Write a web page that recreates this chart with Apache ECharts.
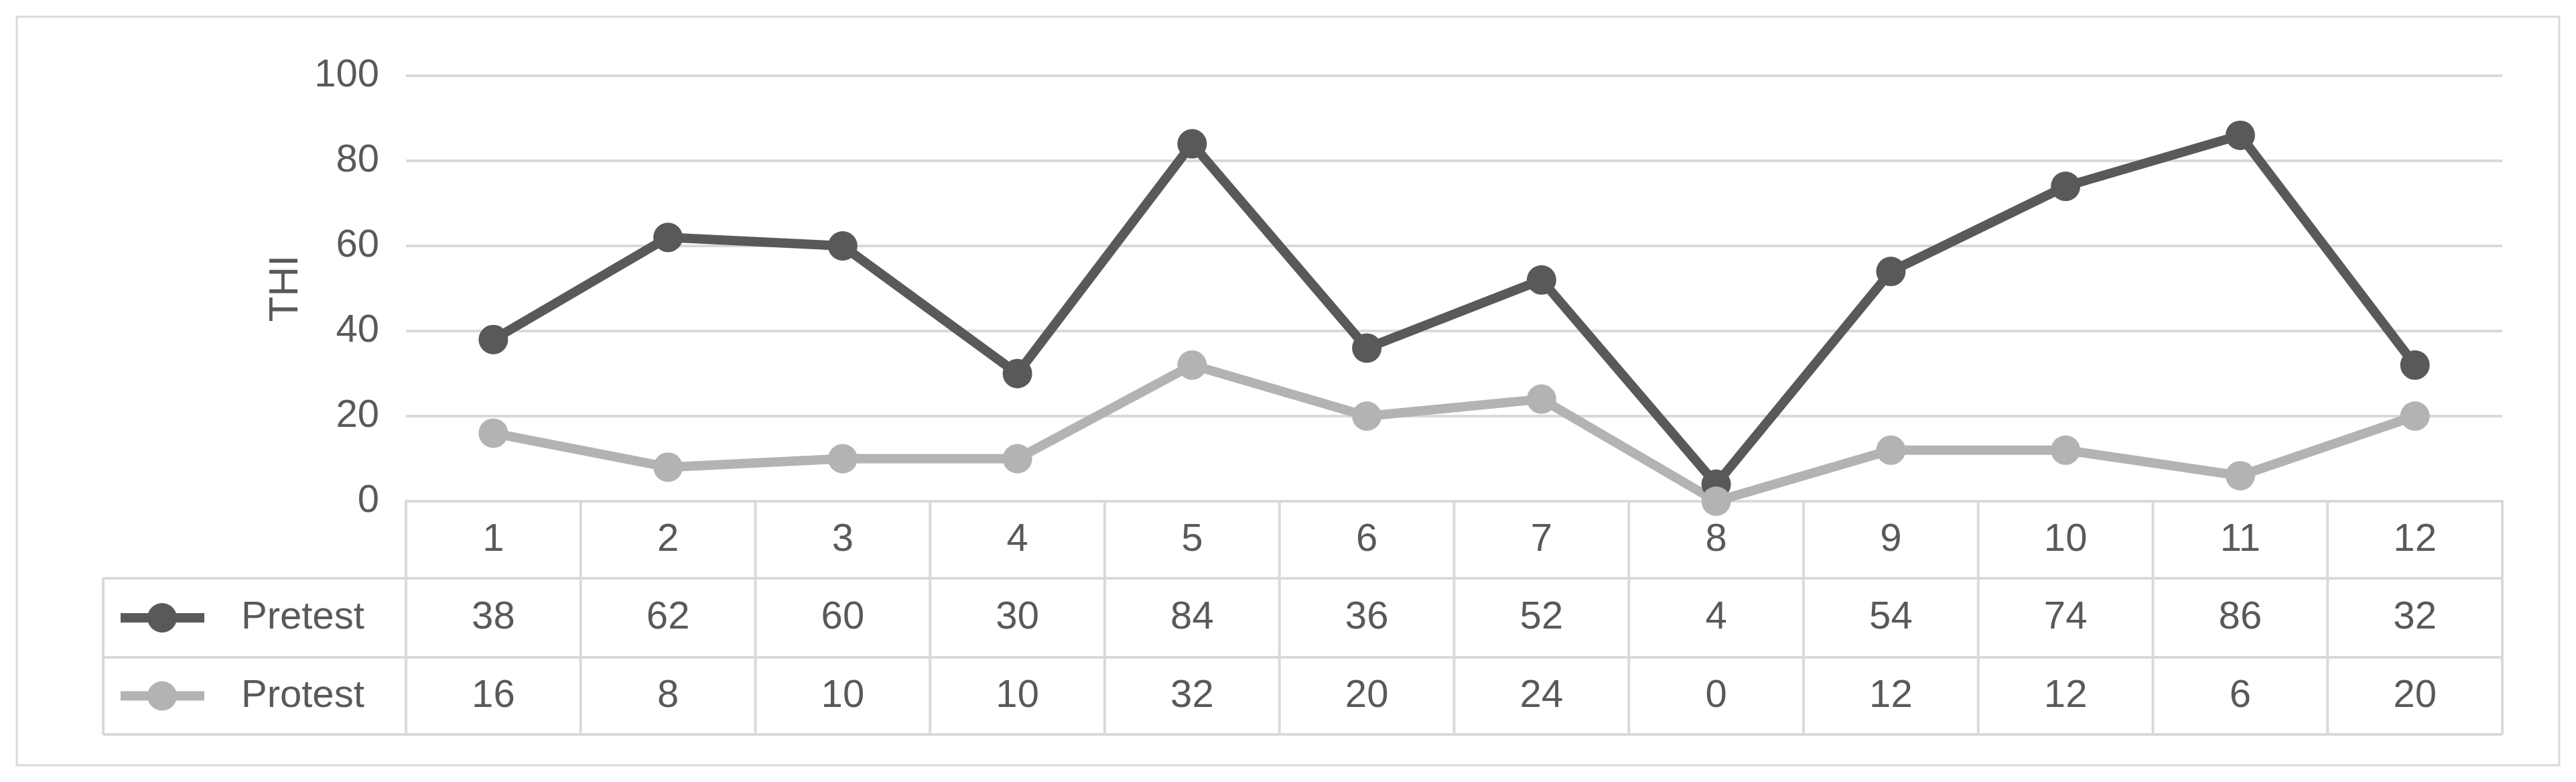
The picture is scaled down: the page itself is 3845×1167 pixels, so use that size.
<!DOCTYPE html>
<html><head><meta charset="utf-8">
<script src="https://cdn.jsdelivr.net/npm/echarts@6/dist/echarts.min.js"></script>
<style>html,body{margin:0;padding:0;background:#fff}#c{width:3845px;height:1167px}</style>
</head><body><div id="c"></div>
<script>
var categories = ['1','2','3','4','5','6','7','8','9','10','11','12'];
var pretest = [38, 62, 60, 30, 84, 36, 52, 4, 54, 74, 86, 32];
var protest = [16, 8, 10, 10, 32, 20, 24, 0, 12, 12, 6, 20];
var seriesNames = ['Pretest', 'Protest'];
var colors = ['#595959', '#b3b3b3'];

var chart = echarts.init(document.getElementById('c'));
var font = 'Liberation Sans, Arial, sans-serif';
var grid = {left: 606, right: 110, top: 113, bottom: 419};
chart.setOption({
	animation: false,
	grid: grid,
	xAxis: {type: 'category', data: categories, boundaryGap: true,
		axisLine: {lineStyle: {color: '#d9d9d9', width: 4}}, axisTick: {show: false}, axisLabel: {show: false}},
	yAxis: {type: 'value', min: 0, max: 100, interval: 20, name: 'THI', nameLocation: 'middle', nameGap: 125,
		nameTextStyle: {fontSize: 62, color: '#595959', fontFamily: font},
		axisLabel: {fontSize: 58, color: '#595959', fontFamily: font, margin: 40},
		splitLine: {lineStyle: {color: '#d9d9d9', width: 4}}},
	series: [
		{name: seriesNames[0], type: 'line', data: pretest, symbol: 'circle', symbolSize: 44,
			lineStyle: {width: 14, color: colors[0]}, itemStyle: {color: colors[0]}},
		{name: seriesNames[1], type: 'line', data: protest, symbol: 'circle', symbolSize: 44,
			lineStyle: {width: 14, color: colors[1]}, itemStyle: {color: colors[1]}}
	]
});

// data table under the plot
var W = 3845, H = 1167;
var x0 = grid.left, x1 = W - grid.right;
var step = (x1 - x0) / categories.length;
var rows = [748, 863, 981, 1096];
var legLeft = 154;
var g = [];
var lc = '#d9d9d9';
function line(a, b, c, d) { g.push({type: 'line', shape: {x1: a, y1: b, x2: c, y2: d}, style: {stroke: lc, lineWidth: 4}}); }
// outer frame
g.push({type: 'rect', shape: {x: 25, y: 25, width: W - 50, height: H - 50}, style: {fill: 'none', stroke: lc, lineWidth: 3}});
line(x0, rows[0], x0, rows[3]);
for (var i = 0; i < categories.length; i++) line(x0 + step * (i + 1), rows[0], x0 + step * (i + 1), rows[3]);
line(legLeft, rows[1], legLeft, rows[3]);
line(x0, rows[0], x1, rows[0]);
for (var r = 1; r < 4; r++) line(legLeft, rows[r], x1, rows[r]);
var tableData = [categories, pretest, protest];
for (var r = 0; r < 3; r++) {
	var yc = (rows[r] + rows[r + 1]) / 2;
	for (var i = 0; i < categories.length; i++) {
		var xc = chart.convertToPixel({xAxisIndex: 0}, i);
		g.push({type: 'text', style: {text: String(tableData[r][i]), x: xc, y: yc, align: 'center', verticalAlign: 'middle',
			fontSize: 58, fill: '#595959', fontFamily: font}});
	}
	if (r > 0) {
		var col = colors[r - 1];
		g.push({type: 'line', shape: {x1: 180, y1: yc, x2: 305, y2: yc}, style: {stroke: col, lineWidth: 14}});
		g.push({type: 'circle', shape: {cx: 242, cy: yc, r: 22}, style: {fill: col}});
		g.push({type: 'text', style: {text: seriesNames[r - 1], x: 360, y: yc, verticalAlign: 'middle',
			fontSize: 58, fill: '#595959', fontFamily: font}});
	}
}
chart.setOption({graphic: g});
</script></body></html>
